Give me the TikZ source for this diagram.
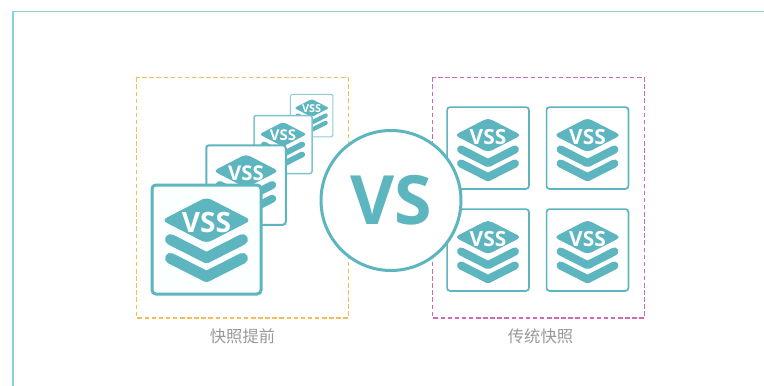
\documentclass[tikz,border=0pt]{standalone}
\usepackage{fontspec}
\setmainfont{Open Sans}
\newfontfamily\cjkfont{Noto Sans CJK SC}
\definecolor{teal}{HTML}{5DB5C0}
\definecolor{framec}{HTML}{86D2D6}
\definecolor{orangec}{HTML}{F4BC58}
\definecolor{magentac}{HTML}{D068B4}
\definecolor{labelc}{HTML}{999999}
\definecolor{tintc}{HTML}{FBFFFF}
\tikzset{
  cardbox/.style={fill=#1},
  chevron/.style={draw=teal,line cap=round,line join=round},
  captiontext/.style={text=labelc,font=\cjkfont\fontsize{16.3}{18}\selectfont,inner sep=0pt},
  zonebox/.style={dash pattern=on 4.5pt off 2.6pt,line width=1.35pt}
}
\newcommand{\ioff}{0}
\newcommand{\vsscard}[7]{% name, cx, cy, size, line width, border tint, fill
  \pgfmathsetmacro{\sz}{#4}
  \begin{scope}[shift={(#2,#3)},x=\sz pt,y=-\sz pt]
    \node[cardbox=#7,draw=teal!#6,line width=#5pt,minimum size=\sz pt-#5pt,inner sep=0pt,rounded corners=.035*\sz pt] (#1) at (0,0) {};
    \begin{scope}[shift={(0,\ioff)}]
    \fill[teal,rounded corners=.05*\sz pt] (-.4,-.172) -- (0,-.378) -- (.4,-.172) -- (0,.034) -- cycle;
    \draw[chevron,line width=.097*\sz pt] (-.322,.0) -- (0,.163) -- (.322,.0);
    \draw[chevron,line width=.097*\sz pt] (-.322,.168) -- (0,.331) -- (.322,.168);
    \pgfmathsetmacro{\fs}{.25*\sz}
    \node[text=white,inner sep=0pt,font=\bfseries\fontsize{\fs}{\fs}\selectfont] (#1t) at (0,-.15) {VSS};
    \end{scope}
  \end{scope}
}
\begin{document}
\begin{tikzpicture}[x=1pt,y=-1pt]
\useasboundingbox (0,0) rectangle (764,386);
\fill[white] (0,0) rectangle (764,386);
\draw[framec,line width=1.6pt] (13,386) -- (13,11.5) -- (764,11.5);
\draw[orangec,zonebox] (136.7,77.3) rectangle (348.3,318);
\draw[magentac,zonebox] (432.7,77.3) rectangle (644.3,318);
\vsscard{d}{311.7}{115.5}{43.5}{1}{70}{white}
\vsscard{c}{283}{144.5}{59.5}{1.5}{80}{white}
\vsscard{b}{246}{185}{81.5}{2}{100}{white}
\vsscard{a}{206.5}{239.5}{112}{3}{100}{tintc}
\renewcommand{\ioff}{.018}
\vsscard{e}{488}{148}{83.5}{1.7}{100}{white}
\vsscard{f}{587.5}{148}{83.5}{1.7}{100}{white}
\vsscard{g}{488}{250}{83.5}{1.7}{100}{white}
\vsscard{h}{587.5}{250}{83.5}{1.7}{100}{white}
\node[circle,draw=teal,fill=white,line width=3pt,minimum size=140pt,inner sep=0pt,text=teal,font=\bfseries\fontsize{68}{68}\selectfont] (vs) at (391,200.5) {VS};
\node[captiontext] (l1) at (242.5,336) {快照提前};
\node[captiontext] (l2) at (540.5,336) {传统快照};
\end{tikzpicture}
\end{document}
